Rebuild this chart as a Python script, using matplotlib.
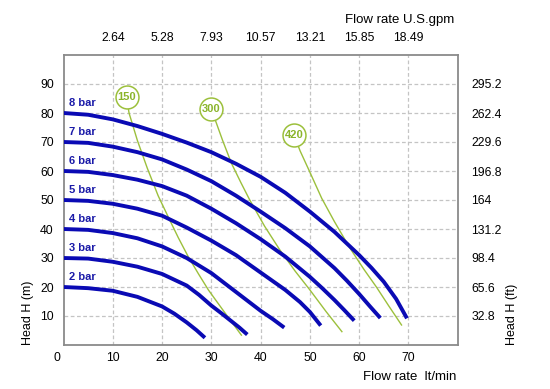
import matplotlib
matplotlib.use('Agg')
import matplotlib.pyplot as plt
import matplotlib.transforms as mtransforms

plt.rcParams['font.family'] = ['Liberation Sans', 'DejaVu Sans']

# Pump curves: flow rate (lt/min) vs head (m), one per air pressure
curve_labels = ['2 bar', '3 bar', '4 bar', '5 bar', '6 bar', '7 bar', '8 bar']
curve_q = [
    [0, 5, 10, 15, 20, 22.5, 25, 27, 28.7],
    [0, 5, 10, 15, 20, 25, 27.5, 30, 32, 34, 35.7, 37.3],
    [0, 5, 10, 15, 20, 25, 30, 35, 40, 42.5, 44.8],
    [0, 5, 10, 15, 20, 25, 30, 35, 40, 45, 48, 50, 52.2],
    [0, 5, 10, 15, 20, 25, 30, 35, 40, 45, 50, 52.5, 55, 57, 59],
    [0, 5, 10, 15, 20, 25, 30, 35, 40, 45, 50, 55, 57.5, 60, 62.2, 64.3],
    [0, 5, 10, 15, 20, 25, 30, 35, 40, 45, 50, 55, 60, 62.5, 65, 67.5, 69.7],
]
curve_h = [
    [20, 19.6, 18.7, 16.6, 13.3, 10.8, 7.8, 5.1, 2.5],
    [30, 29.8, 28.7, 27, 24.5, 20.5, 17.3, 13.6, 11, 8.3, 6, 3.6],
    [40, 39.7, 38.6, 36.8, 34, 30, 24.8, 18.3, 11.8, 8.9, 6],
    [50, 49.7, 48.7, 47, 44.6, 40.5, 36, 31, 25, 19, 14.8, 11.4, 6.7],
    [60, 59.7, 58.6, 57, 54.8, 51.5, 47, 42, 36.5, 30.5, 23.5, 19.6, 15.5, 12, 8.4],
    [70, 69.7, 68.4, 66.5, 64, 60.5, 56.5, 51.5, 46, 40.3, 34, 26.5, 22.2, 17.6, 13.3, 9.3],
    [80, 79.4, 77.8, 75.5, 72.8, 69.8, 66.5, 62.5, 58, 52.5, 46, 39, 31, 26.6, 21.8, 15.9, 9.2],
]

# Air consumption lines (Nl/min), first point is the label bubble
air_labels = ['150', '300', '420']
air_q = [
    [12.8, 13.3, 15, 17, 19.2, 21.3, 23.3, 25.3, 27.4, 29.4, 32.8, 36.1],
    [30.0, 30.5, 32.3, 34.1, 36, 37.8, 40.8, 43.9, 47, 50, 53.3, 56.5],
    [46.8, 48, 50, 52.4, 55, 58.1, 61, 63.5, 66, 68.6],
]
air_h = [
    [85.4, 80, 70.5, 61, 51.5, 44, 37, 30.5, 24.5, 19, 11, 3.4],
    [81.3, 79, 70.5, 62.6, 56, 50, 41, 32.8, 25.5, 19, 11.5, 4.6],
    [72.4, 67, 59.6, 50.6, 42.5, 33.5, 26, 20, 13.5, 6.9],
]

# Axis ticks
x_ticks = [0, 10, 20, 30, 40, 50, 60, 70]
y_ticks = [10, 20, 30, 40, 50, 60, 70, 80, 90]
gpm_labels = ['2.64', '5.28', '7.93', '10.57', '13.21', '15.85', '18.49']
ft_labels = ['32.8', '65.6', '98.4', '131.2', '164', '196.8', '229.6', '262.4', '295.2']

blue = '#0a0ab4'
green = '#9cc03c'
grey = '#8a8a8a'
tick_fs = 8.8

fig = plt.figure(figsize=(5.5, 3.89), dpi=100)
ax = fig.add_axes([63.5 / 550, 1 - 345 / 389, (457.7 - 63.5) / 550, (345 - 55) / 389])
ax.set_xlim(0, 80)
ax.set_ylim(0, 100)

# grid
for x in x_ticks[1:]:
    ax.axvline(x, color='#c4c4c4', linestyle=(0, (3, 2)), linewidth=0.9, zorder=0)
for y in y_ticks:
    ax.axhline(y, color='#c4c4c4', linestyle=(0, (3, 2)), linewidth=0.9, zorder=0)

for q, h, lab in zip(curve_q, curve_h, curve_labels):
    ax.plot(q, h, color=blue, linewidth=2.8, zorder=3, solid_capstyle='butt',
            solid_joinstyle='round')
    ax.text(1.2, h[0] + 3.3, lab, color='#1a1aa8', fontsize=8, fontweight='bold',
            ha='left', va='center', zorder=4)

for q, h, lab in zip(air_q, air_h, air_labels):
    ax.plot(q, h, color=green, linewidth=1.0, zorder=2)
    ax.plot(q[0], h[0], marker='o', markersize=16.5, markerfacecolor='white',
            markeredgecolor=green, markeredgewidth=1.1, zorder=5)
    ax.text(q[0], h[0], lab, color='#8ab42a', fontsize=8, fontweight='bold',
            ha='center', va='center', zorder=6)

for s in ax.spines.values():
    s.set_color(grey)
    s.set_linewidth(1.3)

ax.set_xticks(x_ticks)
ax.set_xticklabels([str(v) for v in x_ticks])
ax.set_yticks(y_ticks)
ax.set_yticklabels([str(v) for v in y_ticks])
ax.tick_params(axis='x', length=0, pad=5, labelsize=tick_fs)
ax.tick_params(axis='y', length=0, pad=7, labelsize=tick_fs)
lbl0 = ax.get_xticklabels()[0]
lbl0.set_transform(lbl0.get_transform() + mtransforms.ScaledTranslation(-7 / 100, 0, fig.dpi_scale_trans))

top = ax.secondary_xaxis('top')
top.set_xticks(x_ticks[1:])
top.set_xticklabels(gpm_labels)
top.tick_params(length=0, pad=8, labelsize=tick_fs)
top.spines['top'].set_visible(False)

right = ax.secondary_yaxis('right')
right.set_yticks(y_ticks)
right.set_yticklabels(ft_labels)
right.tick_params(length=0, pad=10, labelsize=tick_fs)
right.spines['right'].set_visible(False)

fig.text(454 / 550, 1 - 20 / 389, 'Flow rate U.S.gpm', fontsize=9.5, ha='right', va='center')
fig.text(456.7 / 550, 1 - 377.3 / 389, 'Flow rate  lt/min', fontsize=9.5, ha='right', va='center')
fig.text(27.7 / 550, 1 - 345 / 389, 'Head H (m)', fontsize=9, rotation=90, ha='center', va='bottom')
fig.text(512 / 550, 1 - 345 / 389, 'Head H (ft)', fontsize=9, rotation=90, ha='center', va='bottom')

fig.savefig('out.png', dpi=100, facecolor='white')
